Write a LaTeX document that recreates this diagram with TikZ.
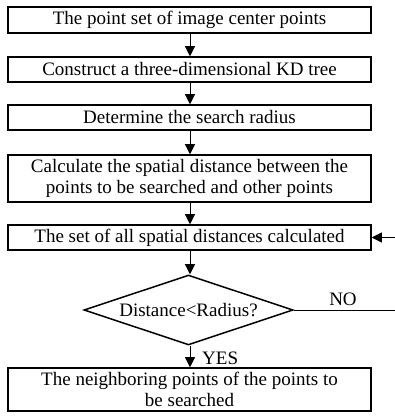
\documentclass[tikz,border=0pt]{standalone}
\usepackage{fontspec}
\setmainfont{Liberation Serif}
\usetikzlibrary{arrows.meta,shapes.geometric}
\tikzset{
	stepbox/.style={draw, line width=1.5pt, minimum width=363pt, inner sep=0pt, align=center, font=\fontsize{19}{20.5}\selectfont},
	testbox/.style={draw, diamond, shape aspect=3, line width=1.5pt, minimum width=209pt, minimum height=70pt, inner sep=0pt, font=\fontsize{19}{20.5}\selectfont},
	flow/.style={line width=0.8pt, -{Triangle[length=10pt,width=10pt]}},
	tag/.style={font=\fontsize{19}{20.5}\selectfont, inner sep=0pt}
}

\begin{document}
\begin{tikzpicture}[x=1pt, y=1pt]
		%%%%% START %%%%%
		\useasboundingbox (0, 0) rectangle (395, 416);
		
		\node[stepbox, minimum height=26pt] (points) at (189.5, 396) {The point set of image center points};
		\node[stepbox, minimum height=25pt] (kdtree) at (189.5, 346.5) {Construct a three-dimensional KD tree};
		\node[stepbox, minimum height=25pt] (radius) at (189.5, 298.5) {Determine the search radius};
		\node[stepbox, minimum height=47pt] (calc) at (189.5, 237.5) {Calculate the spatial distance between the\\points to be searched and other points};
		\node[stepbox, minimum height=25pt] (dists) at (189.5, 178.5) {The set of all spatial distances calculated};
		
		\node[testbox] (test) at (188.5, 106) {Distance<Radius?};
		
		\node[stepbox, minimum height=43pt] (neigh) at (189.5, 26.5) {The neighboring points of the points to\\be searched};
		
		\coordinate (noend) at (395, 106);
		\coordinate (backin) at (395, 178.5);
		
		\draw[flow] (points.south -| 190, 0) -- (kdtree.north -| 190, 0);
		\draw[flow] (kdtree.south -| 190, 0) -- (radius.north -| 190, 0);
		\draw[flow] (radius.south -| 190, 0) -- (calc.north -| 190, 0);
		\draw[flow] (calc.south -| 190, 0) -- (dists.north -| 190, 0);
		\draw[flow] (dists.south -| 190, 0) -- (test.north -| 190, 0);
		\draw[flow] (test.south -| 190, 0) -- (neigh.north -| 190, 0);
		
		% loop back for the NO branch
		\draw[line width=0.8pt] (test.east) -- (noend);
		\draw[flow] (backin) -- (dists.east);
		
		\node[tag] (no) at (343, 117) {NO};
		\node[tag, anchor=west] (yes) at (202, 58) {YES};
		%%%%% END %%%%%
	\end{tikzpicture}
\end{document}
